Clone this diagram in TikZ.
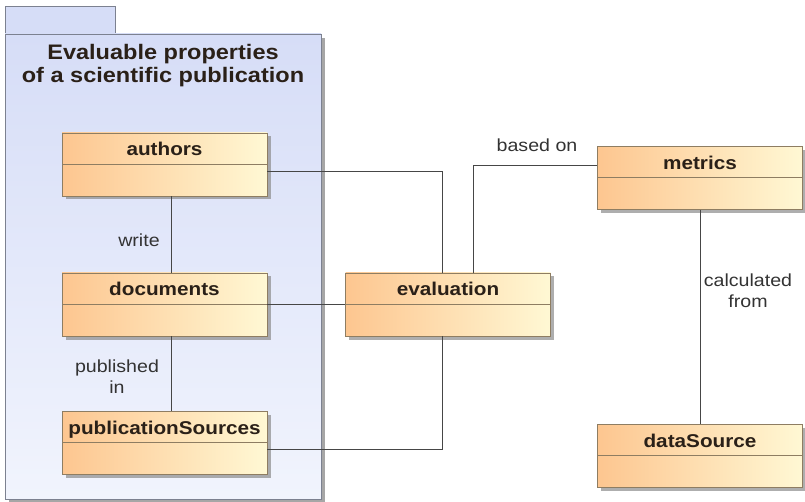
\documentclass[tikz,border=0pt]{standalone}
\usepackage{fontspec}
\setmainfont{Liberation Sans}[FakeStretch=1.12]
\usepackage{tikz}
\usetikzlibrary{shadows}
\definecolor{clsL}{HTML}{FDC690}
\definecolor{clsR}{HTML}{FFF8D4}
\definecolor{clsEdge}{HTML}{8E7D62}
\definecolor{pkgTop}{HTML}{D6DDF7}
\definecolor{pkgBot}{HTML}{F1F4FD}
\definecolor{pkgEdge}{HTML}{7C8190}
\definecolor{wire}{HTML}{464646}
\definecolor{ink}{HTML}{2A2018}
\tikzset{
  umlcls/.style={draw=clsEdge, thick, left color=clsL, right color=clsR,
    minimum width=205pt, inner xsep=0pt, inner ysep=0pt,
    text height=23pt, text depth=40pt, text=ink,
    font=\fontsize{18.5}{20}\selectfont\bfseries,
    drop shadow={shadow xshift=3.5pt, shadow yshift=-3.5pt, fill=black!45, opacity=.7},
    path picture={\draw[clsEdge, thick] ([yshift=-31pt]path picture bounding box.north west) -- ([yshift=-31pt]path picture bounding box.north east);}},
  rel/.style={draw=wire, thick},
  rellbl/.style={align=center, text=black!80, font=\fontsize{17.5}{21}\selectfont, inner sep=1pt}
}

\begin{document}
\begin{tikzpicture}[x=1pt, y=-1pt]
\useasboundingbox (0,0) rectangle (805,502);
% package
\fill[black!35] (9,38) rectangle (325,502);
\draw[pkgEdge, thick, fill=pkgTop] (5,6) rectangle (115,34);
\draw[pkgEdge, thick, top color=pkgTop, bottom color=pkgBot] (5,34) rectangle (321,499);
\node[align=center, text=ink, font=\fontsize{21}{23}\selectfont\bfseries] (pkgname) at (163,66) {Evaluable properties\\of a scientific publication};

% classes
\node[umlcls] (authors) at (164.5,164.5) {authors};
\node[umlcls] (documents) at (164.5,304.5) {documents};
\node[umlcls] (pubsrc) at (164.5,443) {publicationSources};
\node[umlcls] (evaluation) at (448,304.5) {evaluation};
\node[umlcls] (metrics) at (700,178) {metrics};
\node[umlcls] (datasrc) at (700,455.5) {dataSource};

% relations
\draw[rel] ([xshift=6.5pt]authors.south) -- ([xshift=6.5pt]documents.north);
\draw[rel] ([xshift=6.5pt]documents.south) -- ([xshift=6.5pt]pubsrc.north);
\draw[rel] ([yshift=-6.5pt]authors.east) -| ([xshift=-6pt]evaluation.north);
\draw[rel] (documents.east) -- (evaluation.west);
\draw[rel] ([yshift=-6pt]pubsrc.east) -| ([xshift=-6pt]evaluation.south);
\draw[rel] ([xshift=25pt]evaluation.north) |- ([yshift=13pt]metrics.west);
\draw[rel] (metrics) -- (datasrc);

% labels
\node[rellbl] (lwrite) at (139,240) {write};
\node[rellbl] (lpub) at (117,377) {published\\in};
\node[rellbl] (lbased) at (537,145) {based on};
\node[rellbl] (lcalc) at (748,291) {calculated\\from};
\end{tikzpicture}
\end{document}
